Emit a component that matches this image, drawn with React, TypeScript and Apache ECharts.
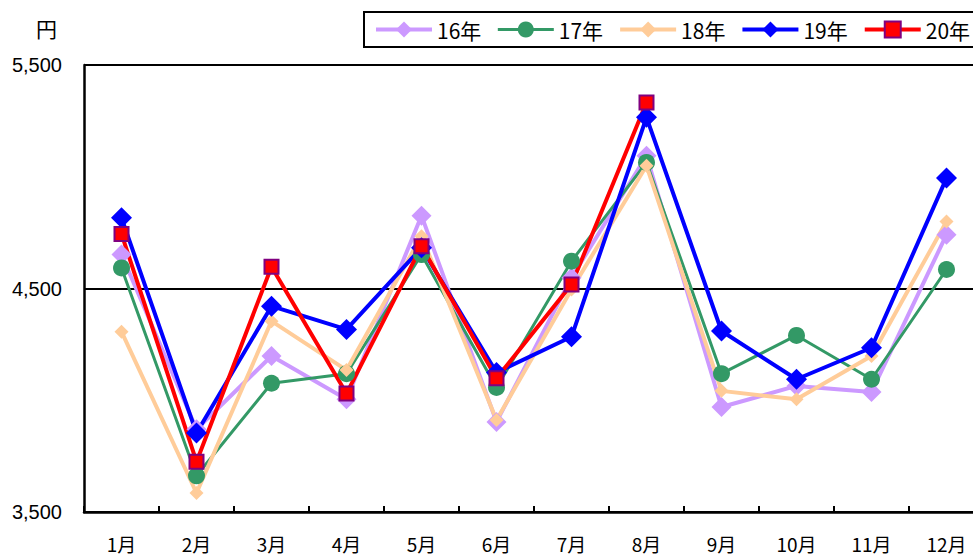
import React, { useEffect, useRef } from "react";
import * as echarts from "echarts";

const months = ["1月", "2月", "3月", "4月", "5月", "6月", "7月", "8月", "9月", "10月", "11月", "12月"];
const y16 = [4652, 3870, 4198, 4004, 4826, 3903, 4548, 5094, 3970, 4064, 4037, 4741];
const y17 = [4592, 3662, 4076, 4119, 4652, 4057, 4622, 5064, 4119, 4290, 4094, 4585];
const y18 = [4307, 3585, 4354, 4135, 4734, 3912, 4496, 5049, 4042, 4004, 4198, 4800];
const y19 = [4816, 3853, 4421, 4317, 4682, 4124, 4284, 5266, 4310, 4094, 4235, 4994];
const y20 = [4744, 3725, 4597, 4030, 4689, 4098, 4518, 5332, null, null, null, null];
const seriesNames = ["16年", "17年", "18年", "19年", "20年"];
const yMin = 3500;
const yMax = 5500;
const yStep = 1000;

const JP = '"Noto Sans CJK JP", sans-serif';
const LAT = '"Liberation Sans", Arial, sans-serif';

export default function App() {
  const ref = useRef<HTMLDivElement>(null);
  useEffect(() => {
    if (!ref.current) return;
    const chart = echarts.init(ref.current, null, { renderer: "svg" });
    const mk = (
      name: string,
      data: (number | null)[],
      color: string,
      lw: number,
      symbol: string,
      size: number,
      border?: string
    ) => ({
      name,
      type: "line",
      data,
      symbol,
      symbolSize: size,
      showAllSymbol: true,
      lineStyle: { color, width: lw },
      itemStyle: border
        ? { color, borderColor: border, borderWidth: 2 }
        : { color, borderWidth: 0 },
      emphasis: { disabled: true },
    });
    const lw = [4, 3, 4, 4, 4];
    chart.setOption({
      animation: false,
      legend: {
        left: 364,
        top: 12,
        orient: "horizontal",
        data: seriesNames.map((n, i) => ({ name: n, lineStyle: { width: lw[i] } })),
        itemWidth: 56,
        itemHeight: 20,
        itemGap: 15,
        padding: [7, 10, 7, 10],
        borderColor: "#000",
        borderWidth: 2,
        textStyle: { fontFamily: JP, fontSize: 21, color: "#000" },
        selectedMode: false,
      },
      graphic: [
        {
          type: "text",
          left: 36,
          top: 17,
          style: { text: "円", font: `21px ${JP}`, fill: "#000" },
        },
      ],
      grid: { left: 84, top: 65, width: 900, height: 447, containLabel: false },
      xAxis: {
        type: "category",
        data: months,
        boundaryGap: true,
        axisLine: { lineStyle: { color: "#000", width: 2.5 } },
        axisTick: { show: true, inside: true, length: 6, lineStyle: { color: "#000", width: 2 } },
        axisLabel: { fontFamily: JP, fontSize: 19, color: "#000", margin: 22 },
        splitLine: { show: false },
      },
      yAxis: {
        type: "value",
        min: yMin,
        max: yMax,
        interval: yStep,
        axisLine: { show: true, lineStyle: { color: "#000", width: 2.5 } },
        axisTick: { show: false },
        axisLabel: {
          fontFamily: LAT,
          fontSize: 20,
          color: "#000",
          margin: 22,
          formatter: (v: number) => v.toLocaleString("en-US"),
        },
        splitLine: { show: true, lineStyle: { color: "#000", width: 2 } },
      },
      series: [
        mk(seriesNames[0], y16, "#CC99FF", 4, "diamond", 20),
        mk(seriesNames[1], y17, "#339966", 3, "circle", 17),
        mk(seriesNames[2], y18, "#FFCC99", 4, "diamond", 14),
        mk(seriesNames[3], y19, "#0000FF", 4, "diamond", 21),
        mk(seriesNames[4], y20, "#FF0000", 4, "rect", 14, "#800080"),
      ],
    });
    return () => chart.dispose();
  }, []);
  return (
    <div
      style={{ position: "fixed", left: 0, top: 0, width: 973, height: 558, overflow: "hidden", background: "#fff" }}
    >
      <div ref={ref} style={{ width: 1000, height: 558 }} />
    </div>
  );
}
